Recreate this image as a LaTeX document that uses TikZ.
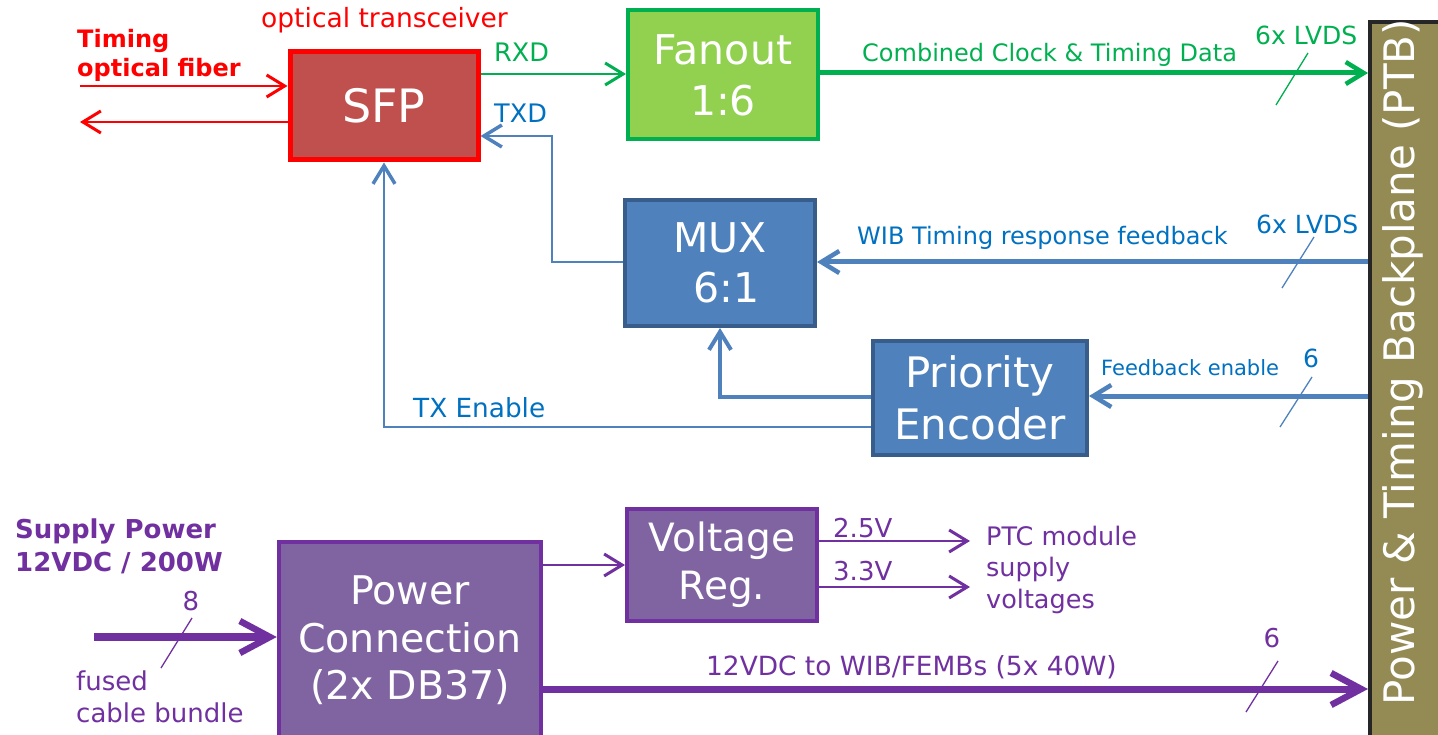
\documentclass[tikz,border=0pt]{standalone}
\usepackage{fontspec}
\setmainfont{DejaVu Sans}
\usetikzlibrary{arrows.meta}
\definecolor{cRed}{HTML}{FF0000}
\definecolor{cSFP}{HTML}{C0504D}
\definecolor{cGreen}{HTML}{00B050}
\definecolor{cLGreen}{HTML}{92D050}
\definecolor{cBlueTxt}{HTML}{0070C0}
\definecolor{cBlue}{HTML}{4F81BD}
\definecolor{cDBlue}{HTML}{385D8A}
\definecolor{cPurple}{HTML}{7030A0}
\definecolor{cPFill}{HTML}{8064A2}
\definecolor{cOlive}{HTML}{948A54}
\definecolor{cDark}{HTML}{262626}
\newcommand\fsz[2]{\fontsize{#1}{#2}\selectfont}
\begin{document}
\begin{tikzpicture}[x=1pt,y=-1pt,
  box/.style={draw, inner sep=0, align=center, text=white},
  lbl/.style={inner sep=0, anchor=base west},
  tip/.style={-{Straight Barb[length=18pt,width=22pt,line width=#1]}},
  bigtip/.style={-{Straight Barb[length=30pt,width=32pt,line width=#1]}},
  slash/.style={line width=1.3pt}
]
\useasboundingbox (0,0) rectangle (1438,735);

% boxes
\node[box, fill=cSFP, draw=cRed, line width=5pt, minimum width=188, minimum height=108, font=\fsz{46}{55}] (sfp) at (384,106) {SFP};
\node[box, fill=cLGreen, draw=cGreen, line width=4pt, minimum width=190, minimum height=129, font=\fsz{41}{51}] (fan) at (723,75) {Fanout\\1:6};
\node[box, fill=cBlue, draw=cDBlue, line width=4pt, minimum width=190, minimum height=126, font=\fsz{41}{50}] (mux) at (720,263) {MUX\\\ 6:1};
\node[box, fill=cBlue, draw=cDBlue, line width=4pt, minimum width=214, minimum height=113, font=\fsz{42}{52}] (pe) at (980,398) {Priority\\Encoder};
\node[box, fill=cPFill, draw=cPurple, line width=4.5pt, minimum width=262, minimum height=197, font=\fsz{39.5}{47.5}] (pc) at (410,640.5) {Power\\Connection\\(2x DB37)};
\node[box, fill=cPFill, draw=cPurple, line width=4pt, minimum width=190, minimum height=112, font=\fsz{39}{48}] (vr) at (722,565) {Voltage\\Reg.};
\node[draw=cDark, fill=cOlive, line width=4pt, inner sep=0, minimum width=75, minimum height=730] (ptb) at (1407.5,387) {};
\node[rotate=90, inner sep=0, text=white, font=\fsz{42}{50}] (ptbtxt) at (1403,362) {Power \& Timing Backplane (PTB)};

% labels
\node[lbl, text=cRed, font=\fsz{26.5}{30}] (ot) at (261,28) {optical transceiver};
\node[lbl, text=cRed, font=\bfseries\fsz{24}{29}, align=left] (tof) at (77,77) {Timing\\optical fiber};
\node[lbl, text=cGreen, font=\fsz{25.5}{30}] (rxd) at (494,62) {RXD};
\node[lbl, text=cBlueTxt, font=\fsz{25.5}{30}] (txd) at (494,123) {TXD};
\node[lbl, text=cGreen, font=\fsz{24}{30}] (ccl) at (862,62) {Combined Clock \& Timing Data};
\node[lbl, text=cGreen, font=\fsz{25}{30}] (lv1) at (1255,45) {6x LVDS};
\node[lbl, text=cBlueTxt, font=\fsz{24}{30}] (wib) at (857,245) {WIB Timing response feedback};
\node[lbl, text=cBlueTxt, font=\fsz{25}{30}] (lv2) at (1256,234) {6x LVDS};
\node[lbl, text=cBlueTxt, font=\fsz{21}{25}] (fbe) at (1101,375) {Feedback enable};
\node[inner sep=0, anchor=base, text=cBlueTxt, font=\fsz{25}{30}] (n6a) at (1311,367) {6};
\node[lbl, text=cBlueTxt, font=\fsz{26.3}{30}] (txen) at (413,417) {TX Enable};
\node[lbl, text=cPurple, font=\bfseries\fsz{26}{33}, align=left] (sup) at (15,571) {Supply Power\\12VDC / 200W};
\node[inner sep=0, anchor=base, text=cPurple, font=\fsz{26}{30}] (n8) at (191,610) {8};
\node[lbl, text=cPurple, font=\fsz{26}{32}, align=left] (fcb) at (76,722) {fused\\cable bundle};
\node[lbl, text=cPurple, font=\fsz{26}{30}] (v25l) at (833,537) {2.5V};
\node[lbl, text=cPurple, font=\fsz{26}{30}] (v33l) at (833,580) {3.3V};
\node[lbl, text=cPurple, font=\fsz{25.5}{31.5}, align=left] (ptc) at (986,608) {PTC module\\supply\\voltages};
\node[lbl, text=cPurple, font=\fsz{26.4}{30}] (v12l) at (706,675) {12VDC to WIB/FEMBs (5x 40W)};
\node[inner sep=0, anchor=base, text=cPurple, font=\fsz{26}{30}] (n6b) at (1272,647) {6};

% coordinates
\coordinate (fibin) at (80,86);
\coordinate (fibout) at (80,122);
\coordinate (rxd) at (0,74);
\coordinate (clk) at (0,73);
\coordinate (wibc) at (0,262);
\coordinate (fbc) at (0,396);
\coordinate (txdk) at (552,136);
\coordinate (muxl) at (0,262);
\coordinate (txe) at (383,427);
\coordinate (pmux) at (0,397);
\coordinate (pin) at (94,637);
\coordinate (pvr) at (0,565);
\coordinate (v25) at (970,541);
\coordinate (v33) at (970,587);
\coordinate (p12) at (0,689);

% red fiber
\draw[cRed, line width=2pt, tip=3pt] (fibin) -- (fibin -| sfp.west);
\draw[cRed, line width=2pt, tip=3pt] (fibout -| sfp.west) -- (fibout);
% RXD
\draw[cGreen, line width=2.2pt, tip=3pt] (sfp.east |- rxd) -- (fan.west |- rxd);
% TXD
\draw[cBlue, line width=2pt, tip=3.5pt] (mux.west |- muxl) -| (txdk) -- (txdk -| sfp.east);
% clock
\draw[cGreen, line width=5pt, tip=4.5pt] (fan.east |- clk) -- (ptb.west |- clk);
% WIB
\draw[cBlue, line width=5pt, tip=4.5pt] (ptb.west |- wibc) -- (mux.east |- wibc);
% feedback enable
\draw[cBlue, line width=5pt, tip=4.5pt] (ptb.west |- fbc) -- (pe.east |- fbc);
% PE to MUX
\draw[cBlue, line width=4pt, tip=4pt] (pe.west |- pmux) -| (mux.south);
% TX enable
\draw[cBlue, line width=2pt, tip=3.5pt] (pe.west |- txe) -| (sfp.south);
% power in
\draw[cPurple, line width=8pt, bigtip=6.5pt] (pin) -- (pin -| pc.west);
\draw[cPurple, line width=2pt, tip=3pt] (pc.east |- pvr) -- (vr.west |- pvr);
\draw[cPurple, line width=2pt, tip=3pt] (v25 -| vr.east) -- (v25);
\draw[cPurple, line width=2pt, tip=3pt] (v33 -| vr.east) -- (v33);
\draw[cPurple, line width=7pt, bigtip=6.5pt] (pc.east |- p12) -- (ptb.west |- p12);

% slashes
\coordinate (s1a) at (1276,105); \coordinate (s1b) at (1308,53);
\coordinate (s2a) at (1282,288); \coordinate (s2b) at (1314,237);
\coordinate (s3a) at (1280,427); \coordinate (s3b) at (1312,377);
\coordinate (s4a) at (161,668); \coordinate (s4b) at (192,618);
\coordinate (s5a) at (1246,712); \coordinate (s5b) at (1278,661);
\draw[slash, cGreen] (s1a) -- (s1b);
\draw[slash, cBlue] (s2a) -- (s2b);
\draw[slash, cBlue] (s3a) -- (s3b);
\draw[slash, cPurple] (s4a) -- (s4b);
\draw[slash, cPurple] (s5a) -- (s5b);
\end{tikzpicture}
\end{document}
